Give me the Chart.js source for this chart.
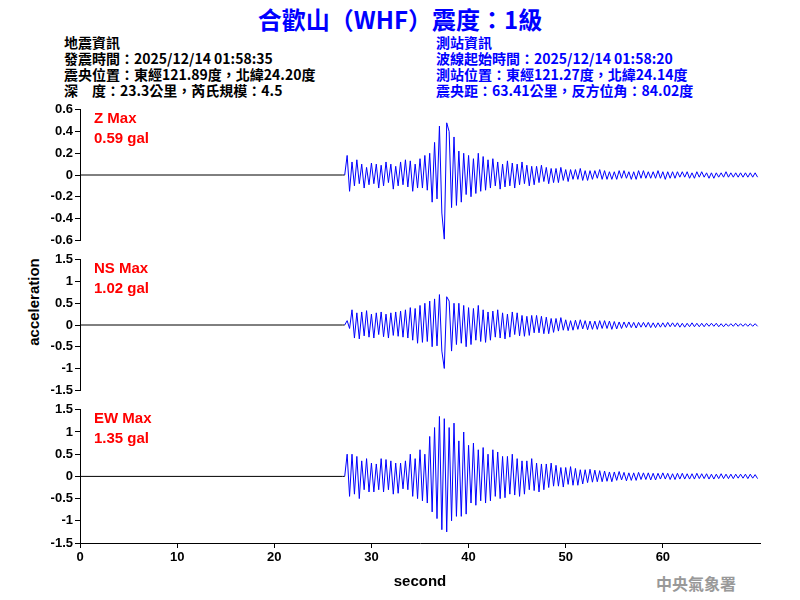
<!DOCTYPE html>
<html><head><meta charset="utf-8">
<script src="https://cdn.jsdelivr.net/npm/chart.js@4"></script>
<style>
body{margin:0;width:800px;height:600px;background:#fff;position:relative;font-family:"Liberation Sans",Arial,sans-serif;overflow:hidden}
canvas{position:absolute;left:0}
.t{position:absolute;white-space:nowrap;font-family:"Noto Sans CJK TC","Liberation Sans",sans-serif}
.info{font-size:14px;font-weight:bold;line-height:16px}
.mx{position:absolute;left:94px;color:#f00;font-size:15px;font-weight:bold;line-height:20px;font-family:"Liberation Sans",Arial,sans-serif}
</style></head><body>
<div class="t" style="left:0;width:800px;text-align:center;top:1px;font-size:24px;font-weight:bold;color:#0000ff">合歡山（WHF）震度：1級</div>
<div class="t info" style="left:64px;top:34px;color:#000">地震資訊<br>發震時間：2025/12/14 01:58:35<br>震央位置：東經121.89度，北緯24.20度<br>深　度：23.3公里，芮氏規模：4.5</div>
<div class="t info" style="left:436px;top:34px;color:#0000ff">測站資訊<br>波線起始時間：2025/12/14 01:58:20<br>測站位置：東經121.27度，北緯24.14度<br>震央距：63.41公里，反方位角：84.02度</div>
<div class="t" style="left:33px;top:302px;transform:translate(-50%,-50%) rotate(-90deg);font-size:15px;font-weight:bold;font-family:'Liberation Sans',Arial">acceleration</div>
<div class="t" style="left:656px;top:571px;font-size:16px;font-weight:bold;color:#999">中央氣象署</div>
<canvas id="c1"></canvas><canvas id="c2"></canvas><canvas id="c3"></canvas>
<div class="mx" style="top:108px">Z Max<br>0.59 gal</div>
<div class="mx" style="top:258px">NS Max<br>1.02 gal</div>
<div class="mx" style="top:408px">EW Max<br>1.35 gal</div>
<script>
// sampling: values from 27 s, 4 samples per second
const startTime = 27;
const dt = 0.25;

const zValues = [
  0,0,.18,-.15, .12,-.1,.14,-.08, .1,-.12,.07,-.09, .11,-.08,.1,-.12, .09,-.1,.12,-.07,
  .1,-.13,.08,-.1, .12,-.09,.14,-.11, .13,-.15,.1,-.12, .15,-.12,.18,-.14, .2,-.25,.3,-.22,
  .45,-.35,-.59,.48, .4,-.3,.35,-.28, .22,-.25,.2,-.18, .18,-.2,.15,-.17, .2,-.15,.17,-.14,
  .14,-.12,.15,-.1, .12,-.13,.1,-.11, .13,-.1,.11,-.12, .1,-.09,.12,-.08, .09,-.1,.08,-.09,
  .08,-.07,.09,-.06, .07,-.08,.06,-.07, .06,-.07,.07,-.05, .05,-.06,.05,-.04, .05,-.04,.06,-.05,
  .04,-.05,.04,-.04, .04,-.03,.05,-.04, .04,-.04,.03,-.04, .03,-.04,.04,-.03, .04,-.03,.03,-.04,
  .03,-.04,.04,-.03, .04,-.03,.03,-.03, .03,-.03,.04,-.03, .03,-.04,.03,-.03, .03,-.03,.03,-.02,
  .03,-.02,.03,-.03, .02,-.03,.03,-.02, .03,-.02,.02,-.03, .02,-.03,.02,-.02, .02,-.02,.03,-.02,
  .02,-.02,.02,-.02, .02,-.02,.02,-.02, .02,-.02,.02,-.02
];
const nsValues = [
  0,0,.1,-.08, .35,-.3,.28,-.32, .3,-.25,.33,-.28, .25,-.3,.28,-.22, .3,-.27,.25,-.3,
  .28,-.24,.3,-.26, .32,-.28,.35,-.3, .4,-.35,.38,-.42, .45,-.4,.5,-.38, .55,-.5,.6,-.48,
  .7,-.6,-1.0,.65, .55,-.6,.5,-.45, .5,-.42,.45,-.5, .4,-.45,.38,-.35, .45,-.38,.35,-.4,
  .3,-.35,.32,-.28, .35,-.3,.28,-.32, .25,-.28,.3,-.22, .28,-.25,.22,-.26, .2,-.24,.22,-.18,
  .22,-.18,.2,-.2, .18,-.2,.15,-.17, .15,-.14,.17,-.12, .12,-.13,.1,-.12, .11,-.1,.12,-.09,
  .1,-.11,.09,-.1, .09,-.1,.1,-.08, .1,-.08,.09,-.1, .08,-.09,.07,-.08, .07,-.06,.07,-.06,
  .06,-.07,.06,-.05, .06,-.05,.06,-.06, .05,-.06,.05,-.05, .05,-.05,.06,-.04, .05,-.04,.05,-.05,
  .04,-.05,.04,-.04, .05,-.04,.04,-.04, .04,-.04,.04,-.03, .04,-.03,.04,-.04, .03,-.04,.03,-.03,
  .03,-.03,.04,-.03, .03,-.03,.03,-.03, .03,-.03,.03,-.03
];
const ewValues = [
  0,0,.5,-.45, .5,-.4,.45,-.5, .35,-.3,.4,-.35, .3,-.35,.28,-.3, .4,-.35,.38,-.3,
  .35,-.4,.3,-.38, .3,-.28,.35,-.3, .5,-.45,.4,-.5, .6,-.55,.5,-.6, .9,-.8,1.1,-.95,
  1.35,-1.2,1.3,-1.25, 1.1,-1.0,1.2,-.9, .8,-.9,1.0,-.85, .7,-.6,.75,-.65, .6,-.55,.65,-.6,
  .5,-.55,.6,-.45, .55,-.5,.45,-.48, .45,-.4,.5,-.42, .4,-.45,.35,-.4, .35,-.3,.4,-.32,
  .3,-.35,.28,-.3, .28,-.25,.3,-.22, .25,-.22,.2,-.24, .2,-.18,.22,-.2, .18,-.2,.15,-.17,
  .15,-.14,.16,-.13, .14,-.12,.13,-.12, .12,-.11,.1,-.12, .1,-.09,.11,-.08, .09,-.1,.08,-.09,
  .08,-.09,.09,-.07, .08,-.07,.08,-.08, .07,-.08,.07,-.06, .08,-.06,.07,-.07, .06,-.07,.07,-.06,
  .07,-.06,.06,-.06, .06,-.06,.07,-.05, .06,-.05,.06,-.06, .05,-.06,.05,-.05, .06,-.05,.05,-.05,
  .05,-.05,.05,-.04, .05,-.04,.05,-.05, .05,-.04,.04,-.05
];
const xTicks = [0, 10, 20, 30, 40, 50, 60];

function toPoints(vals) {
  const pts = [{x: 0, y: 0}];
  vals.forEach((v, i) => pts.push({x: startTime + i * dt, y: v}));
  return pts;
}

const tickFont = {size: 13, weight: "bold", family: "Liberation Sans"};

function makeChart(id, top, height, vals, lim, step, showX) {
  const cv = document.getElementById(id);
  cv.style.top = top + "px";
  cv.style.width = "800px"; cv.style.height = height + "px";
  cv.width = 800; cv.height = height;
  new Chart(cv, {
    type: "line",
    data: {datasets: [{
      data: toPoints(vals),
      borderColor: "#0000ff", borderWidth: 1, pointRadius: 0, tension: 0,
      segment: {borderColor: c => c.p1.parsed.x <= startTime + 0.3 ? "#000" : "#0000ff"}
    }]},
    options: {
      responsive: false, animation: false, events: [],
      layout: {padding: {top: 8, right: 40, left: 0, bottom: showX ? 0 : 8}},
      plugins: {legend: {display: false}, tooltip: {enabled: false}},
      scales: {
        x: {
          type: "linear", min: 0, max: 70, display: showX,
          afterFit: s => { if (showX) s.height = 52; },
          afterBuildTicks: s => { s.ticks = xTicks.map(v => ({value: v})); },
          grid: {drawOnChartArea: false, tickLength: 5, color: "#000"},
          border: {color: "#000"},
          ticks: {color: "#000", font: tickFont, padding: 2, maxRotation: 0, autoSkip: false},
          title: {display: true, text: "second", color: "#000", font: {size: 15, weight: "bold", family: "Liberation Sans"}, padding: {top: 6}}
        },
        y: {
          min: -lim, max: lim,
          afterFit: s => { s.width = 80; },
          grid: {drawOnChartArea: false, tickLength: 5, color: "#000"},
          border: {color: "#000"},
          ticks: {stepSize: step, color: "#000", font: tickFont, padding: 2, autoSkip: false,
            callback: v => String(Math.round(v * 10) / 10)}
        }
      }
    }
  });
}

makeChart("c1", 100, 150, zValues, 0.6, 0.2, false);
makeChart("c2", 250, 150, nsValues, 1.5, 0.5, false);
makeChart("c3", 400, 195, ewValues, 1.5, 0.5, true);
</script>
</body></html>
